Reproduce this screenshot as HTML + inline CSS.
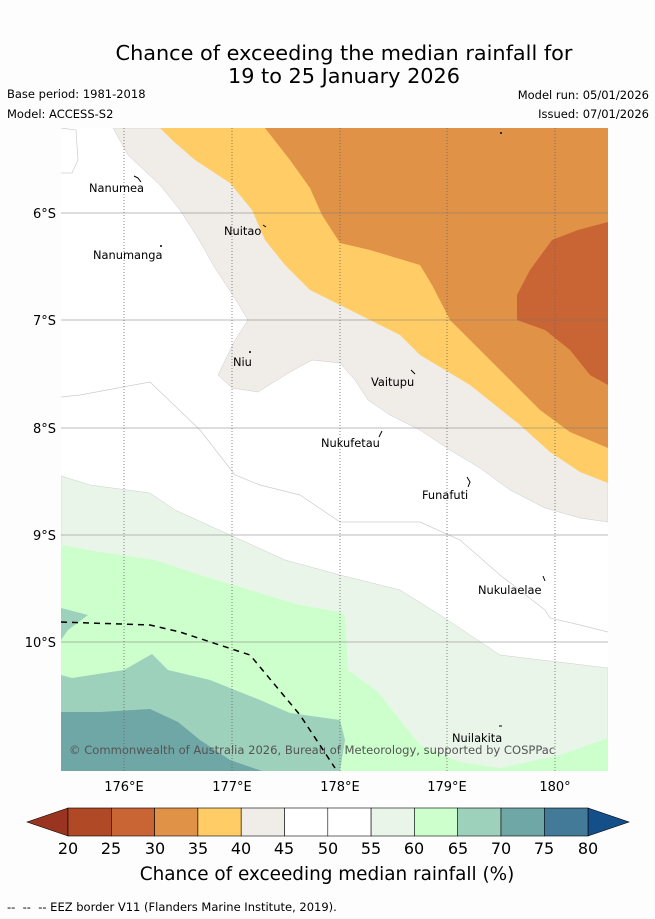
<!DOCTYPE html>
<html><head><meta charset="utf-8"><style>
body{margin:0;background:#fff;width:655px;height:919px;overflow:hidden;font-family:"Liberation Sans","DejaVu Sans",sans-serif}
svg{display:block}
text{font-family:"DejaVu Sans","Liberation Sans",sans-serif}
</style></head><body>
<svg width="655" height="919" viewBox="0 0 655 919">
<rect width="655" height="919" fill="#fdfdfd"/>
<text x="344" y="60" font-size="20.8" text-anchor="middle" fill="#000">Chance of exceeding the median rainfall for</text>
<text x="344" y="83" font-size="20.8" text-anchor="middle" fill="#000">19 to 25 January 2026</text>
<text x="7" y="98" font-size="11.5">Base period: 1981-2018</text>
<text x="7" y="118" font-size="11.5">Model: ACCESS-S2</text>
<text x="649" y="99" font-size="11.5" text-anchor="end">Model run: 05/01/2026</text>
<text x="649" y="118" font-size="11.5" text-anchor="end">Issued: 07/01/2026</text>
<defs><clipPath id="mc"><rect x="61" y="128" width="547" height="643"/></clipPath></defs>
<g clip-path="url(#mc)">
<rect x="61" y="128" width="547" height="643" fill="#fff"/>
<polygon fill="#f0ece7" stroke="#ccc" stroke-width="0.5" points="113,128 128,155 160,185 180,210 198,238 215,268 236,300 248,320 234,342 218,375 232,388 258,392 290,372 312,360 340,363 355,380 368,400 390,415 420,430 450,450 480,468 510,490 545,508 580,518 608,522 608,128"/>
<polygon fill="#ffcc66" points="160,128 172,140 195,160 230,183 252,210 265,240 285,265 310,290 340,305 370,320 400,335 420,355 445,370 470,385 495,405 520,425 550,452 580,472 608,483 608,128"/>
<polygon fill="#e09247" points="265,128 290,160 310,188 322,215 340,243 370,250 420,265 432,285 450,320 480,350 510,380 540,410 570,432 608,448 608,128"/>
<polygon fill="#c96434" points="517,295 530,270 552,240 578,230 608,222 608,385 590,375 570,350 545,330 517,320"/>
<polyline fill="none" stroke="#ccc" stroke-width="0.7" points="61,397 80,395 150,382 200,430 235,475 260,485 300,495 340,522 420,522 460,540 500,575 545,610 550,618 580,625 608,632"/>
<polyline fill="none" stroke="#ccc" stroke-width="0.7" points="61,128 76,130 78,160 72,173 61,173"/>
<polygon fill="#eaf5ea" stroke="#ccc" stroke-width="0.5" points="61,476 90,485 150,493 175,510 230,535 285,560 340,575 400,590 440,615 470,635 500,655 608,668 608,771 61,771"/>
<polygon fill="#ccffcc" points="61,545 100,552 155,560 200,575 250,590 300,605 340,612 345,615 348,670 378,692 400,720 420,745 460,762 500,768 560,755 608,738 608,771 61,771"/>
<polygon fill="#9dd1bb" points="61,675 72,678 124,670 152,654 168,670 210,680 260,700 290,713 340,720 345,740 340,771 61,771"/>
<polygon fill="#9dd1bb" points="61,608 88,615 68,630 61,640"/>
<polygon fill="#6fa6a6" points="61,712 100,712 150,709 178,722 200,740 230,760 262,771 61,771"/>
<g stroke="#777" stroke-opacity="0.5" stroke-width="1">
<line x1="61" y1="213" x2="608" y2="213"/><line x1="61" y1="320" x2="608" y2="320"/><line x1="61" y1="428" x2="608" y2="428"/><line x1="61" y1="535" x2="608" y2="535"/><line x1="61" y1="642" x2="608" y2="642"/>
</g>
<g stroke="#666" stroke-width="0.8" stroke-dasharray="1,2">
<line x1="124" y1="128" x2="124" y2="771"/><line x1="232" y1="128" x2="232" y2="771"/><line x1="340" y1="128" x2="340" y2="771"/><line x1="447" y1="128" x2="447" y2="771"/><line x1="555" y1="128" x2="555" y2="771"/>
</g>
<polyline fill="none" stroke="#000" stroke-width="1.5" stroke-dasharray="6,5" points="61,622 150,625 180,632 250,655 300,715 335,768"/>
<g fill="#000" font-size="11.4">
<text x="89" y="192">Nanumea</text><path d="M134,176l4,2l3,4" stroke="#000" fill="none"/>
<text x="93" y="259">Nanumanga</text><circle cx="161" cy="246" r="1"/>
<text x="224" y="235">Nuitao</text><path d="M263,225l3,2" stroke="#000"/>
<text x="233" y="366">Niu</text><circle cx="250" cy="352" r="1"/>
<text x="371" y="386">Vaitupu</text><path d="M411,370l4,4" stroke="#000"/>
<text x="321" y="447">Nukufetau</text><path d="M379,437l3,-6" stroke="#000"/>
<text x="422" y="499">Funafuti</text><path d="M467,477l3,5l-2,5" stroke="#000" fill="none"/>
<text x="478" y="594">Nukulaelae</text><path d="M543,576l2,5" stroke="#000"/>
<text x="452" y="742">Nuilakita</text><path d="M499,726h3" stroke="#000"/>
<circle cx="501" cy="133" r="1"/>
</g>
<text x="69" y="754" font-size="11.55" fill="#555">© Commonwealth of Australia 2026, Bureau of Meteorology, supported by COSPPac</text>
</g>
<g font-size="13" fill="#000">
<text x="56" y="218" text-anchor="end">6°S</text><text x="56" y="325" text-anchor="end">7°S</text><text x="56" y="433" text-anchor="end">8°S</text><text x="56" y="540" text-anchor="end">9°S</text><text x="56" y="647" text-anchor="end">10°S</text>
<text x="124" y="791" text-anchor="middle">176°E</text><text x="232" y="791" text-anchor="middle">177°E</text><text x="340" y="791" text-anchor="middle">178°E</text><text x="447" y="791" text-anchor="middle">179°E</text><text x="555" y="791" text-anchor="middle">180°</text>
</g>
<g stroke="#000" stroke-width="0.6">
<polygon points="27,822 68,808 68,836" fill="#9a3320"/>
<polygon points="588,808 629,822 588,836" fill="#154f8a"/>
<rect x="68" y="808" width="43.3" height="28" fill="#b04a26"/>
<rect x="111.3" y="808" width="43.3" height="28" fill="#c96434"/>
<rect x="154.6" y="808" width="43.3" height="28" fill="#e09247"/>
<rect x="197.9" y="808" width="43.3" height="28" fill="#ffcc66"/>
<rect x="241.2" y="808" width="43.3" height="28" fill="#f0ece7"/>
<rect x="284.5" y="808" width="43.3" height="28" fill="#fff"/>
<rect x="327.8" y="808" width="43.3" height="28" fill="#fff"/>
<rect x="371.1" y="808" width="43.3" height="28" fill="#eaf5ea"/>
<rect x="414.4" y="808" width="43.3" height="28" fill="#ccffcc"/>
<rect x="457.7" y="808" width="43.3" height="28" fill="#9dd1bb"/>
<rect x="501" y="808" width="43.3" height="28" fill="#6fa6a6"/>
<rect x="544.3" y="808" width="43.7" height="28" fill="#427a98"/>
</g>
<g font-size="16" text-anchor="middle">
<text x="68" y="854">20</text><text x="111" y="854">25</text><text x="155" y="854">30</text><text x="198" y="854">35</text><text x="241" y="854">40</text><text x="284" y="854">45</text><text x="328" y="854">50</text><text x="371" y="854">55</text><text x="414" y="854">60</text><text x="458" y="854">65</text><text x="501" y="854">70</text><text x="544" y="854">75</text><text x="588" y="854">80</text>
</g>
<text x="327" y="880" font-size="18.4" text-anchor="middle">Chance of exceeding median rainfall (%)</text>
<text x="7" y="911" font-size="11.5" xml:space="preserve">--  --  -- EEZ border V11 (Flanders Marine Institute, 2019).</text>
</svg>
</body></html>
